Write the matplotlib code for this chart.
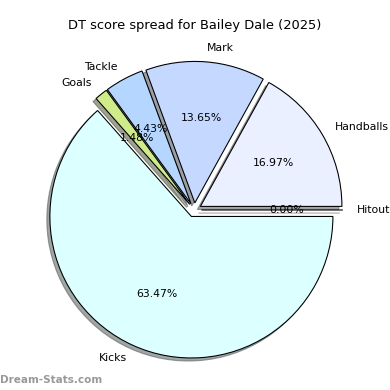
import matplotlib
matplotlib.use('Agg')
import matplotlib.pyplot as plt

# Datos del gráfico
labels = ['Hitout', 'Handballs', 'Mark', 'Tackle', 'Goals', 'Kicks']
values = [0.00, 16.97, 13.65, 4.43, 1.48, 63.47]
colors = ['#ffffff', '#eaf0ff', '#c5d8ff', '#b4d6ff', '#d0eb8a', '#dcffff']
explode = [0.05, 0.05, 0.05, 0.05, 0.05, 0.05]

fig = plt.figure(figsize=(5, 5), dpi=78)
ax = fig.add_axes([17.4 / 390, 3.1 / 390, 353.8 / 390, 353.8 / 390])

ax.pie(values, labels=labels, colors=colors, explode=explode,
       autopct='%1.2f%%', shadow=True, startangle=0,
       wedgeprops={'edgecolor': 'black', 'linewidth': 1})

fig.text(0.5, 1 - 25 / 390, 'DT score spread for Bailey Dale (2025)',
         ha='center', va='center', fontsize=12)
fig.text(0.0, 10 / 390, 'Dream-Stats.com', ha='left', va='center',
         fontsize=9.6, color='gray', alpha=0.8, fontweight='bold')

fig.savefig('out.png', dpi=78)
